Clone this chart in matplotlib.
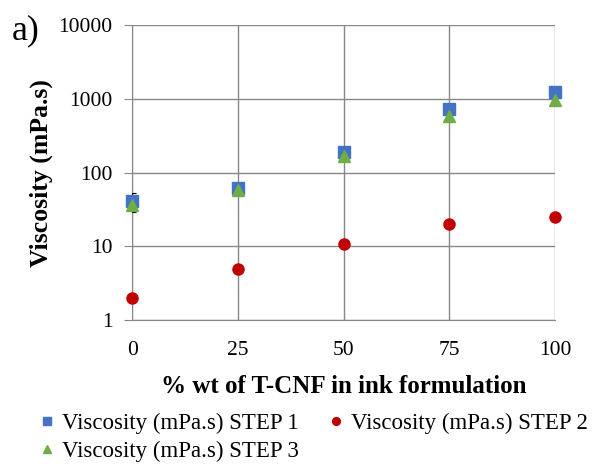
import matplotlib.pyplot as plt
import numpy as np

plt.rcParams['font.family'] = ['Liberation Serif', 'DejaVu Serif']

# Data
tcnf = [0, 25, 50, 75, 100]
step1 = [41, 62, 190, 730, 1240]
step1_err = [12, 0, 0, 0, 0]
step2 = [2.0, 5.0, 10.8, 20, 25]
step3 = [36, 58, 167, 590, 970]

fig = plt.figure(figsize=(5.95, 4.66), dpi=100)
ax = fig.add_axes([0.222, 0.313, 0.711, 0.633])

ax.errorbar(tcnf, step1, yerr=step1_err, fmt='none', ecolor='black', elinewidth=0.8,
            capsize=3, capthick=0.8, zorder=3)
h1, = ax.plot(tcnf, step1, 's', color='#4472C4', ms=8, ls='none', clip_on=False,
              label='Viscosity (mPa.s) STEP 1', zorder=4)
h2, = ax.plot(tcnf, step2, 'o', color='#C00000', ms=8, ls='none', clip_on=False,
              label='Viscosity (mPa.s) STEP 2', zorder=4)
h3, = ax.plot(tcnf, step3, '^', color='#70AD47', ms=8, ls='none', clip_on=False,
              label='Viscosity (mPa.s) STEP 3', zorder=5)

ax.set_yscale('log')
ax.set_ylim(1, 10000)
ax.set_xlim(0, 100)
ax.set_xticks(tcnf)
ax.set_yticks([1, 10, 100, 1000, 10000])
ax.set_yticklabels(['1', '10', '100', '1000', '10000'])
ax.minorticks_off()
ax.tick_params(labelsize=15.5, length=6, color='#888888', direction='out', pad=8)
ax.tick_params(axis='x', length=0, pad=15)

ax.grid(True, color='#888888', lw=1)
ax.set_axisbelow(True)
for s in ax.spines.values():
    s.set_color('#888888')
ax.spines['top'].set_visible(False)
ax.spines['right'].set_visible(False)

ax.set_xlabel('% wt of T-CNF in ink formulation', fontsize=18, fontweight='bold', labelpad=11)
ax.set_ylabel('Viscosity (mPa.s)', fontsize=18.5, fontweight='bold', labelpad=4)

fig.text(0.02, 0.915, 'a)', fontsize=26)

fig.legend([h1, h3, h2], [h1.get_label(), h3.get_label(), h2.get_label()],
           loc='lower left', bbox_to_anchor=(0.068, 0.008), ncol=2, frameon=False,
           fontsize=16.5, handletextpad=0.35, columnspacing=1.3, labelspacing=0.3,
           markerscale=0.7, handlelength=0.6, borderpad=0, borderaxespad=0)

fig.savefig('out.png', dpi=100)
